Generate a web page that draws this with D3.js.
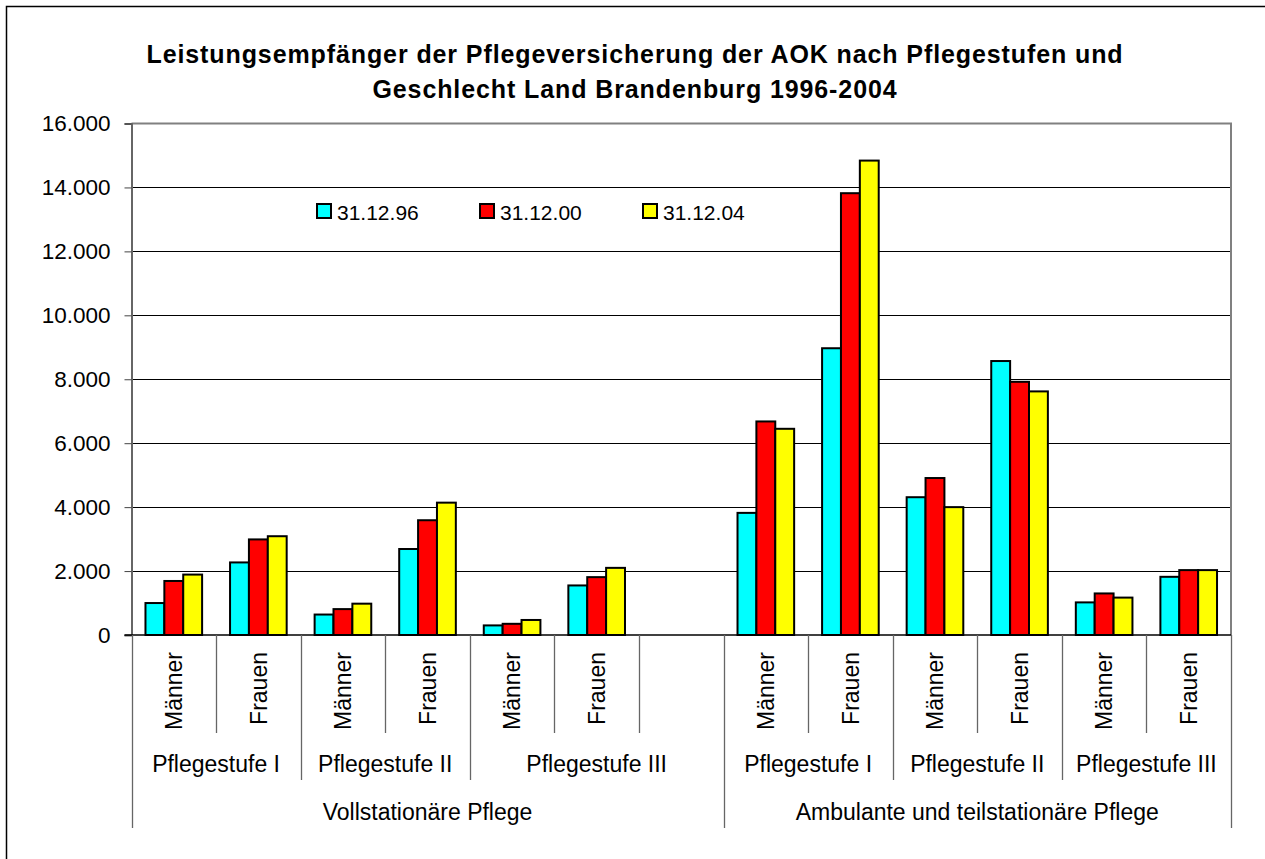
<!DOCTYPE html>
<html>
<head>
<meta charset="utf-8">
<script src="https://cdn.jsdelivr.net/npm/d3@7"></script>
<style>
  body { margin: 0; background: #fff; }
  svg text { font-family: Arial, "Liberation Sans", sans-serif; fill: #000; }
</style>
</head>
<body>
<div id="chart"></div>
<script>
// categories, bottom level (one per bar group)
const categories = ["Männer", "Frauen", "Männer", "Frauen", "Männer", "Frauen", "",
                    "Männer", "Frauen", "Männer", "Frauen", "Männer", "Frauen"];
// middle level: label + number of categories it spans
const stufen = [
  ["Pflegestufe I", 2], ["Pflegestufe II", 2], ["Pflegestufe III", 3],
  ["Pflegestufe I", 2], ["Pflegestufe II", 2], ["Pflegestufe III", 2]
];
// top level
const bereiche = [["Vollstationäre Pflege", 7], ["Ambulante und teilstationäre Pflege", 6]];

const seriesNames = ["31.12.96", "31.12.00", "31.12.04"];
const seriesColors = ["#00ffff", "#ff0000", "#ffff00"];
const v1996 = [1000, 2270, 640, 2690, 300, 1550, null, 3820, 8970, 4310, 8570, 1020, 1820];
const v2000 = [1690, 2990, 810, 3590, 350, 1810, null, 6680, 13820, 4910, 7920, 1300, 2030];
const v2004 = [1890, 3090, 980, 4140, 470, 2100, null, 6450, 14840, 4000, 7620, 1170, 2030];
const yTicks = [0, 2000, 4000, 6000, 8000, 10000, 12000, 14000, 16000];

const W = 1265, H = 859;
const pLeft = 131.5, pRight = 1231, pTop = 123.5, pBottom = 635;

const svg = d3.select("#chart").append("svg")
    .attr("width", W).attr("height", H);

// outer chart border
svg.append("rect").attr("x", 6.5).attr("y", 6.5).attr("width", 1300).attr("height", 900)
    .attr("fill", "none").attr("stroke", "#000").attr("stroke-width", 1.5);

// title
const title = svg.append("text").attr("text-anchor", "middle")
    .attr("font-size", 25).attr("font-weight", "bold").attr("letter-spacing", 0.9);
title.append("tspan").attr("x", 635).attr("y", 63)
    .text("Leistungsempfänger der Pflegeversicherung der AOK nach Pflegestufen und");
title.append("tspan").attr("x", 635).attr("y", 98)
    .text("Geschlecht Land Brandenburg 1996-2004");

const idx = d3.range(categories.length);
const x0 = d3.scaleBand().domain(idx).range([pLeft, pRight]).padding(0);
const x1 = d3.scaleBand().domain(d3.range(3)).range([0, x0.bandwidth()])
    .paddingInner(0).paddingOuter(0.74);
const y = d3.scaleLinear().domain([0, 16000]).range([pBottom, pTop]);

// gridlines
svg.append("g").selectAll("line").data(yTicks.slice(1, -1)).join("line")
    .attr("x1", pLeft).attr("x2", pRight)
    .attr("y1", d => Math.round(y(d)) + 0.5).attr("y2", d => Math.round(y(d)) + 0.5)
    .attr("stroke", "#000").attr("stroke-width", 1);

// plot area frame top/right (gray)
svg.append("path")
    .attr("d", `M${pLeft},${pTop} H${pRight} V${pBottom}`)
    .attr("fill", "none").attr("stroke", "#808080").attr("stroke-width", 2);

// y axis
const yAxis = svg.append("g").attr("transform", `translate(${pLeft},0)`)
    .call(d3.axisLeft(y).tickValues(yTicks).tickSize(7).tickPadding(14)
      .tickFormat(d => d3.format(",")(d).replace(/,/g, ".")));
yAxis.select(".domain").attr("stroke", "#666").attr("stroke-width", 2);
yAxis.selectAll(".tick line").attr("stroke", "#444");
yAxis.selectAll(".tick text").attr("font-size", 22.5)
    .attr("font-family", "Arial, 'Liberation Sans', sans-serif");

// bars
const seriesData = [v1996, v2000, v2004];
seriesData.forEach((vals, s) => {
  svg.append("g").selectAll("rect")
    .data(idx.filter(i => vals[i] != null))
    .join("rect")
      .attr("x", i => x0(i) + x1(s))
      .attr("y", i => y(vals[i]))
      .attr("width", x1.bandwidth())
      .attr("height", i => y(0) - y(vals[i]))
      .attr("fill", seriesColors[s])
      .attr("stroke", "#000").attr("stroke-width", 2);
});

// x baseline
svg.append("line").attr("x1", pLeft - 7).attr("x2", pRight)
    .attr("y1", pBottom).attr("y2", pBottom).attr("stroke", "#000").attr("stroke-width", 1.5);

// category separators, depth by hierarchy level
function i2x(i) { return i < categories.length ? x0(i) : pRight; }
const bounds2 = [0], bounds3 = [0];
stufen.reduce((a, d) => { bounds2.push(a + d[1]); return a + d[1]; }, 0);
bereiche.reduce((a, d) => { bounds3.push(a + d[1]); return a + d[1]; }, 0);
const sepY = { 1: 733, 2: 780, 3: 828 };
const seps = d3.range(categories.length + 1).map(i => ({
  i, lvl: bounds3.includes(i) ? 3 : bounds2.includes(i) ? 2 : 1
}));
svg.append("g").selectAll("line").data(seps).join("line")
    .attr("x1", d => Math.round(i2x(d.i)) + 0.5).attr("x2", d => Math.round(i2x(d.i)) + 0.5)
    .attr("y1", pBottom).attr("y2", d => sepY[d.lvl])
    .attr("stroke", "#666").attr("stroke-width", 1.3);

// level 1 labels (rotated)
svg.append("g").selectAll("text").data(idx).join("text")
    .attr("transform", i => `translate(${x0(i) + x0.bandwidth() / 2},652) rotate(-90)`)
    .attr("text-anchor", "end").attr("dy", "0.36em").attr("font-size", 23)
    .text(i => categories[i]);

// level 2 labels
svg.append("g").selectAll("text").data(stufen).join("text")
    .attr("x", (d, k) => (i2x(bounds2[k]) + i2x(bounds2[k + 1])) / 2)
    .attr("y", 771.5).attr("text-anchor", "middle").attr("font-size", 23)
    .text(d => d[0]);

// level 3 labels
svg.append("g").selectAll("text").data(bereiche).join("text")
    .attr("x", (d, k) => (i2x(bounds3[k]) + i2x(bounds3[k + 1])) / 2)
    .attr("y", 820).attr("text-anchor", "middle").attr("font-size", 23)
    .text(d => d[0]);

// legend
const legend = svg.append("g").selectAll("g").data(seriesNames).join("g")
    .attr("transform", (d, k) => `translate(${317 + k * 163},204)`);
legend.append("rect").attr("width", 14).attr("height", 14)
    .attr("fill", (d, k) => seriesColors[k]).attr("stroke", "#000").attr("stroke-width", 2);
legend.append("text").attr("x", 20).attr("y", 16).attr("font-size", 21).text(d => d);
</script>
</body>
</html>
